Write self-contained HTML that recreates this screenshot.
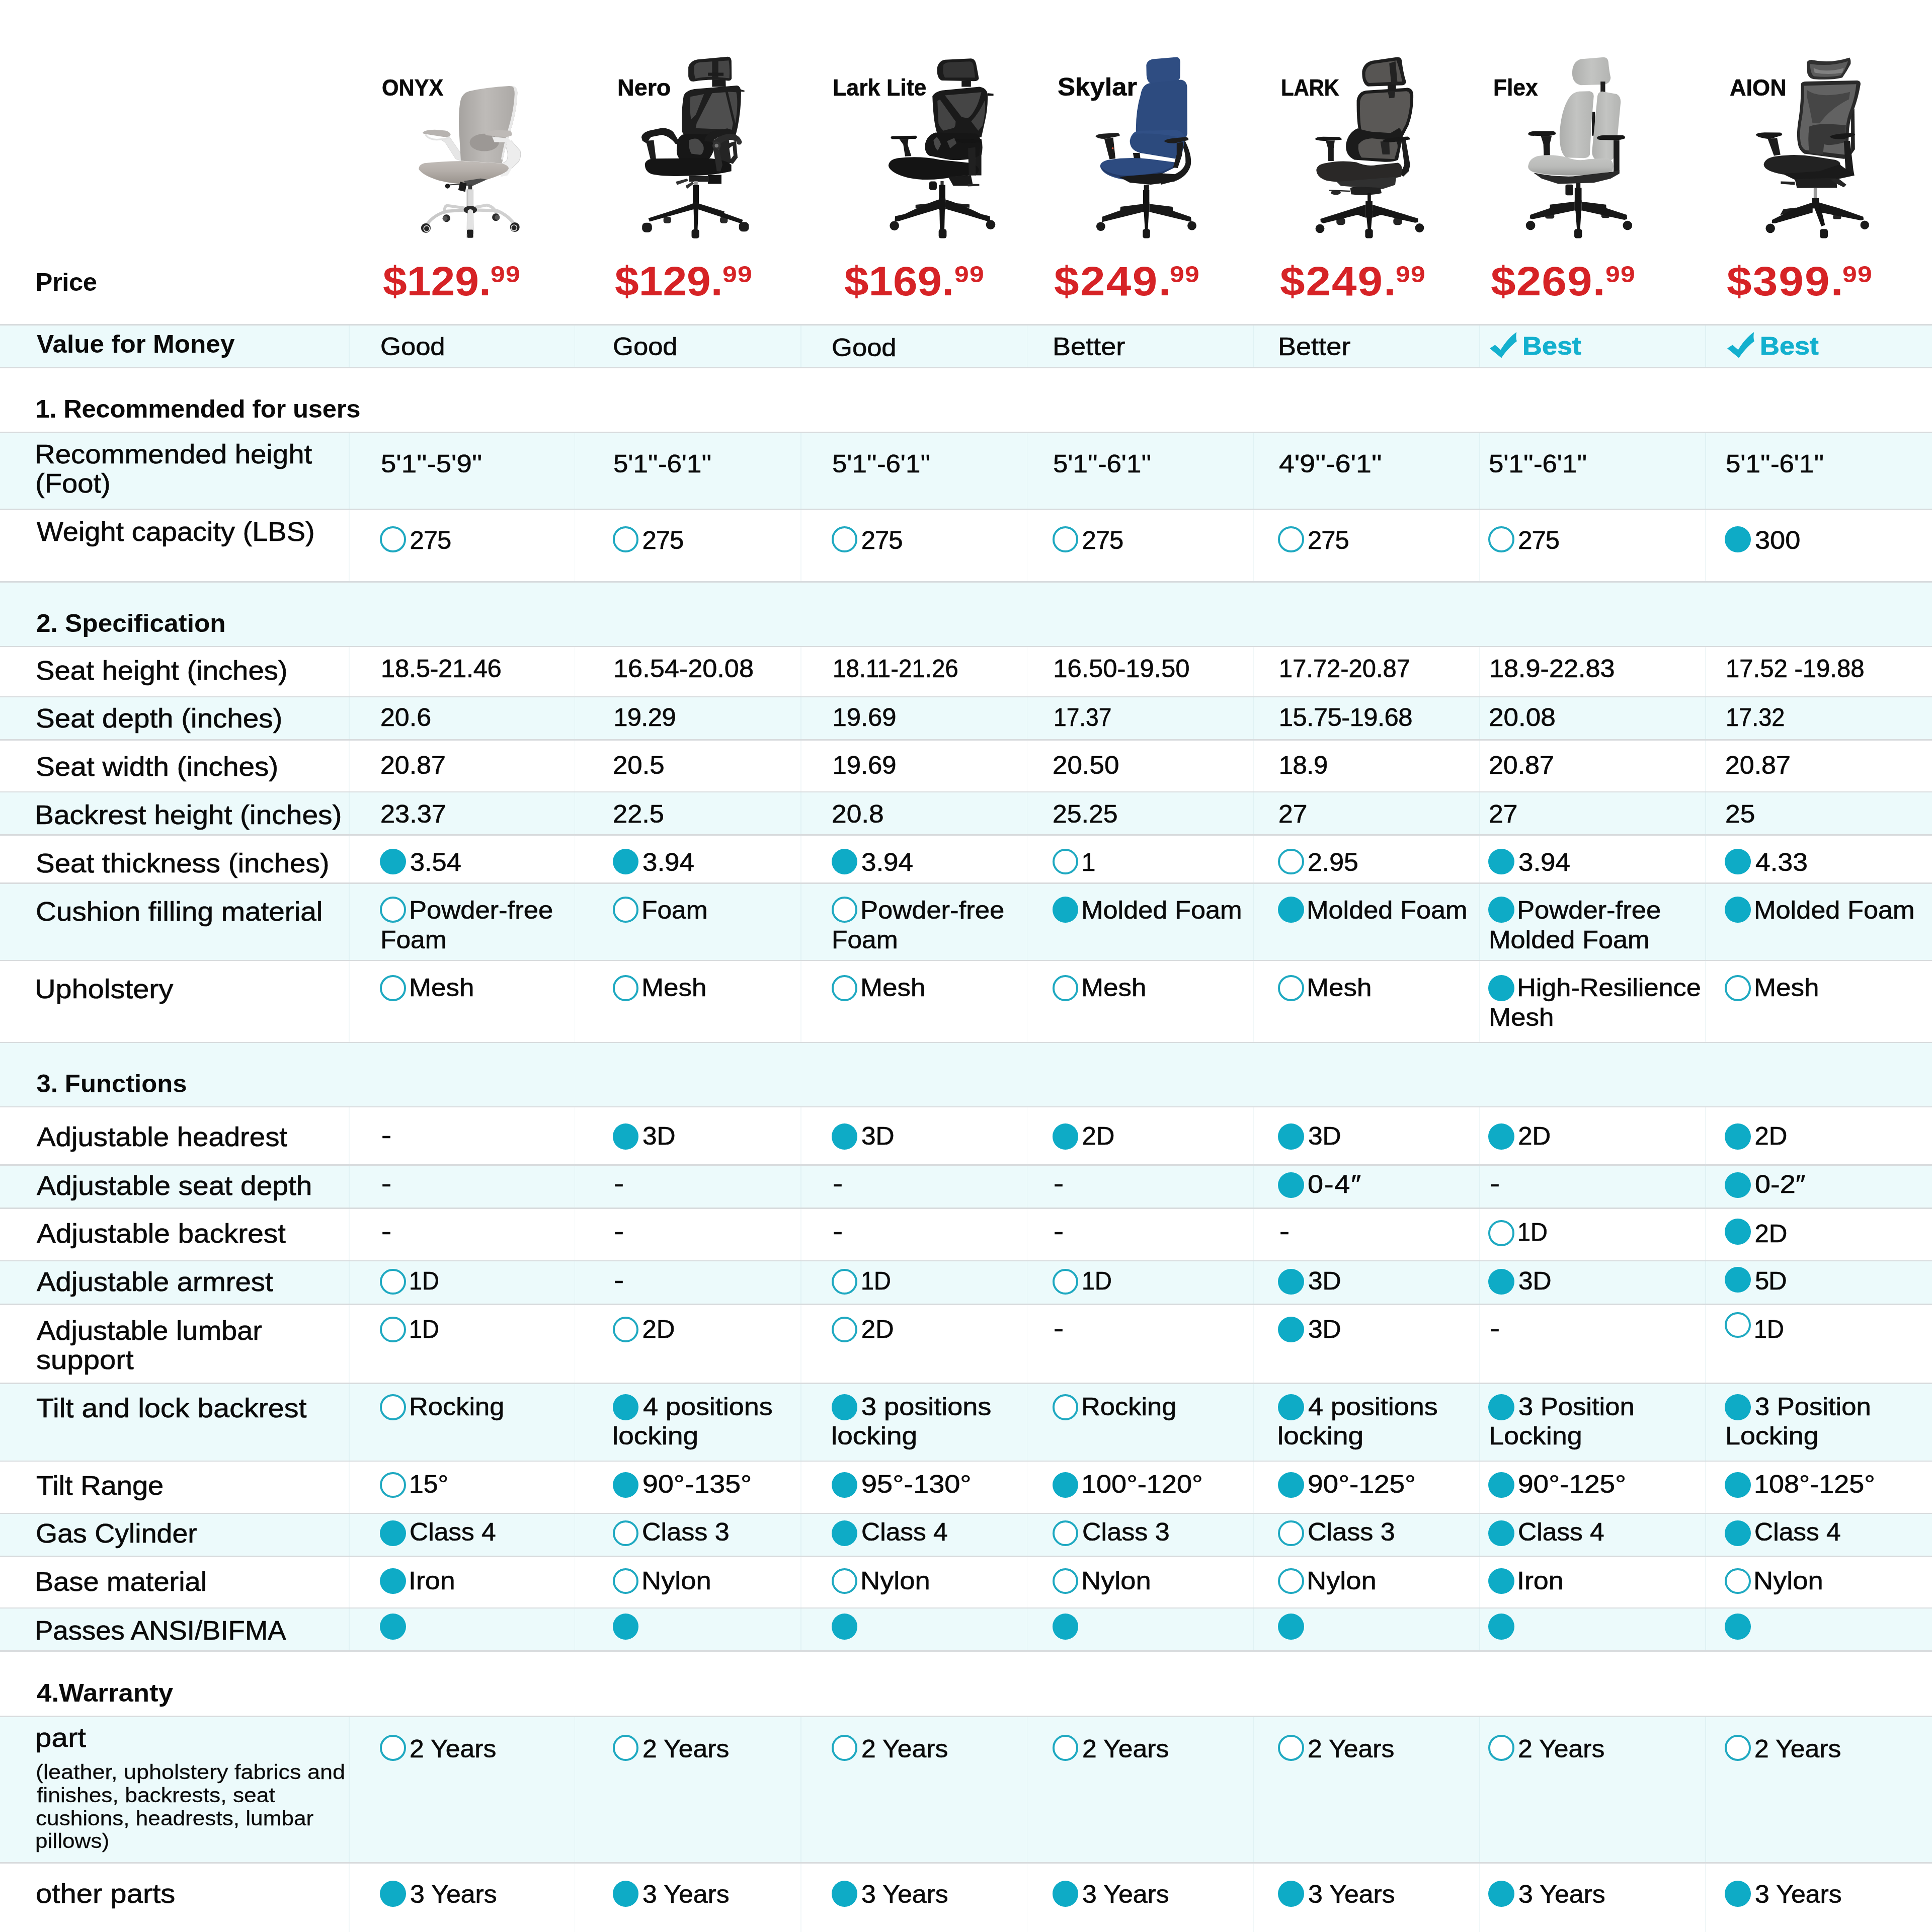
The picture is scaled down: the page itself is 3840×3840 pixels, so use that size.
<!DOCTYPE html>
<html><head><meta charset="utf-8"><title>Chair comparison</title><style>
html,body{margin:0;padding:0;background:#fff;width:3840px;height:3840px;overflow:hidden}
body{width:3840px;height:3840px;position:relative;overflow:hidden;font-family:"Liberation Sans",sans-serif;color:#0b0b0b}
#page{position:absolute;left:0;top:0;width:3840px;height:3840px;overflow:hidden;will-change:transform}
.t{position:absolute;white-space:pre;transform-origin:0 50%;color:#0a0a0a;-webkit-text-stroke:0.7px currentColor}
.abs{position:absolute}
.row{position:absolute;left:0;width:3840px}
.tint{background:#ecfafb}
.hl{position:absolute;left:0;width:3840px;height:2.6px;background:#d8dbdd}
.vl{position:absolute;width:1.8px;background:rgba(150,195,200,0.13)}
.cf{position:absolute;width:51.6px;height:51.6px;border-radius:50%;background:#0eabc6}
.co{position:absolute;width:51.6px;height:51.6px;border-radius:50%;box-sizing:border-box;border:4.4px solid #1fa9c1;background:#fff}
</style></head><body>
<div id="page">
<div class="row tint" style="top:645.4px;height:84.9px"></div>
<div class="row" style="top:730.3px;height:129.4px"></div>
<div class="row tint" style="top:859.7px;height:152.7px"></div>
<div class="row" style="top:1012.4px;height:144.2px"></div>
<div class="row tint" style="top:1156.6px;height:128.2px"></div>
<div class="row" style="top:1284.8px;height:100.3px"></div>
<div class="row tint" style="top:1385.1px;height:85.6px"></div>
<div class="row" style="top:1470.7px;height:103.5px"></div>
<div class="row tint" style="top:1574.2px;height:85.4px"></div>
<div class="row" style="top:1659.6px;height:95.9px"></div>
<div class="row tint" style="top:1755.5px;height:153.6px"></div>
<div class="row" style="top:1909.1px;height:163.0px"></div>
<div class="row tint" style="top:2072.1px;height:127.7px"></div>
<div class="row" style="top:2199.8px;height:115.8px"></div>
<div class="row tint" style="top:2315.6px;height:86.1px"></div>
<div class="row" style="top:2401.7px;height:104.4px"></div>
<div class="row tint" style="top:2506.1px;height:86.5px"></div>
<div class="row" style="top:2592.6px;height:157.0px"></div>
<div class="row tint" style="top:2749.6px;height:154.2px"></div>
<div class="row" style="top:2903.8px;height:104.0px"></div>
<div class="row tint" style="top:3007.8px;height:85.8px"></div>
<div class="row" style="top:3093.6px;height:102.5px"></div>
<div class="row tint" style="top:3196.1px;height:85.4px"></div>
<div class="row" style="top:3281.5px;height:130.2px"></div>
<div class="row tint" style="top:3411.7px;height:290.7px"></div>
<div class="row" style="top:3702.4px;height:137.6px"></div>
<div class="vl" style="left:693.1px;top:645.4px;height:84.9px"></div>
<div class="vl" style="left:1141.6px;top:645.4px;height:84.9px"></div>
<div class="vl" style="left:1591.2px;top:645.4px;height:84.9px"></div>
<div class="vl" style="left:2040.6px;top:645.4px;height:84.9px"></div>
<div class="vl" style="left:2490.6px;top:645.4px;height:84.9px"></div>
<div class="vl" style="left:2939.9px;top:645.4px;height:84.9px"></div>
<div class="vl" style="left:3389.3px;top:645.4px;height:84.9px"></div>
<div class="vl" style="left:693.1px;top:859.7px;height:152.7px"></div>
<div class="vl" style="left:1141.6px;top:859.7px;height:152.7px"></div>
<div class="vl" style="left:1591.2px;top:859.7px;height:152.7px"></div>
<div class="vl" style="left:2040.6px;top:859.7px;height:152.7px"></div>
<div class="vl" style="left:2490.6px;top:859.7px;height:152.7px"></div>
<div class="vl" style="left:2939.9px;top:859.7px;height:152.7px"></div>
<div class="vl" style="left:3389.3px;top:859.7px;height:152.7px"></div>
<div class="vl" style="left:693.1px;top:1012.4px;height:144.2px"></div>
<div class="vl" style="left:1141.6px;top:1012.4px;height:144.2px"></div>
<div class="vl" style="left:1591.2px;top:1012.4px;height:144.2px"></div>
<div class="vl" style="left:2040.6px;top:1012.4px;height:144.2px"></div>
<div class="vl" style="left:2490.6px;top:1012.4px;height:144.2px"></div>
<div class="vl" style="left:2939.9px;top:1012.4px;height:144.2px"></div>
<div class="vl" style="left:3389.3px;top:1012.4px;height:144.2px"></div>
<div class="vl" style="left:693.1px;top:1284.8px;height:100.3px"></div>
<div class="vl" style="left:1141.6px;top:1284.8px;height:100.3px"></div>
<div class="vl" style="left:1591.2px;top:1284.8px;height:100.3px"></div>
<div class="vl" style="left:2040.6px;top:1284.8px;height:100.3px"></div>
<div class="vl" style="left:2490.6px;top:1284.8px;height:100.3px"></div>
<div class="vl" style="left:2939.9px;top:1284.8px;height:100.3px"></div>
<div class="vl" style="left:3389.3px;top:1284.8px;height:100.3px"></div>
<div class="vl" style="left:693.1px;top:1385.1px;height:85.6px"></div>
<div class="vl" style="left:1141.6px;top:1385.1px;height:85.6px"></div>
<div class="vl" style="left:1591.2px;top:1385.1px;height:85.6px"></div>
<div class="vl" style="left:2040.6px;top:1385.1px;height:85.6px"></div>
<div class="vl" style="left:2490.6px;top:1385.1px;height:85.6px"></div>
<div class="vl" style="left:2939.9px;top:1385.1px;height:85.6px"></div>
<div class="vl" style="left:3389.3px;top:1385.1px;height:85.6px"></div>
<div class="vl" style="left:693.1px;top:1470.7px;height:103.5px"></div>
<div class="vl" style="left:1141.6px;top:1470.7px;height:103.5px"></div>
<div class="vl" style="left:1591.2px;top:1470.7px;height:103.5px"></div>
<div class="vl" style="left:2040.6px;top:1470.7px;height:103.5px"></div>
<div class="vl" style="left:2490.6px;top:1470.7px;height:103.5px"></div>
<div class="vl" style="left:2939.9px;top:1470.7px;height:103.5px"></div>
<div class="vl" style="left:3389.3px;top:1470.7px;height:103.5px"></div>
<div class="vl" style="left:693.1px;top:1574.2px;height:85.4px"></div>
<div class="vl" style="left:1141.6px;top:1574.2px;height:85.4px"></div>
<div class="vl" style="left:1591.2px;top:1574.2px;height:85.4px"></div>
<div class="vl" style="left:2040.6px;top:1574.2px;height:85.4px"></div>
<div class="vl" style="left:2490.6px;top:1574.2px;height:85.4px"></div>
<div class="vl" style="left:2939.9px;top:1574.2px;height:85.4px"></div>
<div class="vl" style="left:3389.3px;top:1574.2px;height:85.4px"></div>
<div class="vl" style="left:693.1px;top:1659.6px;height:95.9px"></div>
<div class="vl" style="left:1141.6px;top:1659.6px;height:95.9px"></div>
<div class="vl" style="left:1591.2px;top:1659.6px;height:95.9px"></div>
<div class="vl" style="left:2040.6px;top:1659.6px;height:95.9px"></div>
<div class="vl" style="left:2490.6px;top:1659.6px;height:95.9px"></div>
<div class="vl" style="left:2939.9px;top:1659.6px;height:95.9px"></div>
<div class="vl" style="left:3389.3px;top:1659.6px;height:95.9px"></div>
<div class="vl" style="left:693.1px;top:1755.5px;height:153.6px"></div>
<div class="vl" style="left:1141.6px;top:1755.5px;height:153.6px"></div>
<div class="vl" style="left:1591.2px;top:1755.5px;height:153.6px"></div>
<div class="vl" style="left:2040.6px;top:1755.5px;height:153.6px"></div>
<div class="vl" style="left:2490.6px;top:1755.5px;height:153.6px"></div>
<div class="vl" style="left:2939.9px;top:1755.5px;height:153.6px"></div>
<div class="vl" style="left:3389.3px;top:1755.5px;height:153.6px"></div>
<div class="vl" style="left:693.1px;top:1909.1px;height:163.0px"></div>
<div class="vl" style="left:1141.6px;top:1909.1px;height:163.0px"></div>
<div class="vl" style="left:1591.2px;top:1909.1px;height:163.0px"></div>
<div class="vl" style="left:2040.6px;top:1909.1px;height:163.0px"></div>
<div class="vl" style="left:2490.6px;top:1909.1px;height:163.0px"></div>
<div class="vl" style="left:2939.9px;top:1909.1px;height:163.0px"></div>
<div class="vl" style="left:3389.3px;top:1909.1px;height:163.0px"></div>
<div class="vl" style="left:693.1px;top:2199.8px;height:115.8px"></div>
<div class="vl" style="left:1141.6px;top:2199.8px;height:115.8px"></div>
<div class="vl" style="left:1591.2px;top:2199.8px;height:115.8px"></div>
<div class="vl" style="left:2040.6px;top:2199.8px;height:115.8px"></div>
<div class="vl" style="left:2490.6px;top:2199.8px;height:115.8px"></div>
<div class="vl" style="left:2939.9px;top:2199.8px;height:115.8px"></div>
<div class="vl" style="left:3389.3px;top:2199.8px;height:115.8px"></div>
<div class="vl" style="left:693.1px;top:2315.6px;height:86.1px"></div>
<div class="vl" style="left:1141.6px;top:2315.6px;height:86.1px"></div>
<div class="vl" style="left:1591.2px;top:2315.6px;height:86.1px"></div>
<div class="vl" style="left:2040.6px;top:2315.6px;height:86.1px"></div>
<div class="vl" style="left:2490.6px;top:2315.6px;height:86.1px"></div>
<div class="vl" style="left:2939.9px;top:2315.6px;height:86.1px"></div>
<div class="vl" style="left:3389.3px;top:2315.6px;height:86.1px"></div>
<div class="vl" style="left:693.1px;top:2401.7px;height:104.4px"></div>
<div class="vl" style="left:1141.6px;top:2401.7px;height:104.4px"></div>
<div class="vl" style="left:1591.2px;top:2401.7px;height:104.4px"></div>
<div class="vl" style="left:2040.6px;top:2401.7px;height:104.4px"></div>
<div class="vl" style="left:2490.6px;top:2401.7px;height:104.4px"></div>
<div class="vl" style="left:2939.9px;top:2401.7px;height:104.4px"></div>
<div class="vl" style="left:3389.3px;top:2401.7px;height:104.4px"></div>
<div class="vl" style="left:693.1px;top:2506.1px;height:86.5px"></div>
<div class="vl" style="left:1141.6px;top:2506.1px;height:86.5px"></div>
<div class="vl" style="left:1591.2px;top:2506.1px;height:86.5px"></div>
<div class="vl" style="left:2040.6px;top:2506.1px;height:86.5px"></div>
<div class="vl" style="left:2490.6px;top:2506.1px;height:86.5px"></div>
<div class="vl" style="left:2939.9px;top:2506.1px;height:86.5px"></div>
<div class="vl" style="left:3389.3px;top:2506.1px;height:86.5px"></div>
<div class="vl" style="left:693.1px;top:2592.6px;height:157.0px"></div>
<div class="vl" style="left:1141.6px;top:2592.6px;height:157.0px"></div>
<div class="vl" style="left:1591.2px;top:2592.6px;height:157.0px"></div>
<div class="vl" style="left:2040.6px;top:2592.6px;height:157.0px"></div>
<div class="vl" style="left:2490.6px;top:2592.6px;height:157.0px"></div>
<div class="vl" style="left:2939.9px;top:2592.6px;height:157.0px"></div>
<div class="vl" style="left:3389.3px;top:2592.6px;height:157.0px"></div>
<div class="vl" style="left:693.1px;top:2749.6px;height:154.2px"></div>
<div class="vl" style="left:1141.6px;top:2749.6px;height:154.2px"></div>
<div class="vl" style="left:1591.2px;top:2749.6px;height:154.2px"></div>
<div class="vl" style="left:2040.6px;top:2749.6px;height:154.2px"></div>
<div class="vl" style="left:2490.6px;top:2749.6px;height:154.2px"></div>
<div class="vl" style="left:2939.9px;top:2749.6px;height:154.2px"></div>
<div class="vl" style="left:3389.3px;top:2749.6px;height:154.2px"></div>
<div class="vl" style="left:693.1px;top:2903.8px;height:104.0px"></div>
<div class="vl" style="left:1141.6px;top:2903.8px;height:104.0px"></div>
<div class="vl" style="left:1591.2px;top:2903.8px;height:104.0px"></div>
<div class="vl" style="left:2040.6px;top:2903.8px;height:104.0px"></div>
<div class="vl" style="left:2490.6px;top:2903.8px;height:104.0px"></div>
<div class="vl" style="left:2939.9px;top:2903.8px;height:104.0px"></div>
<div class="vl" style="left:3389.3px;top:2903.8px;height:104.0px"></div>
<div class="vl" style="left:693.1px;top:3007.8px;height:85.8px"></div>
<div class="vl" style="left:1141.6px;top:3007.8px;height:85.8px"></div>
<div class="vl" style="left:1591.2px;top:3007.8px;height:85.8px"></div>
<div class="vl" style="left:2040.6px;top:3007.8px;height:85.8px"></div>
<div class="vl" style="left:2490.6px;top:3007.8px;height:85.8px"></div>
<div class="vl" style="left:2939.9px;top:3007.8px;height:85.8px"></div>
<div class="vl" style="left:3389.3px;top:3007.8px;height:85.8px"></div>
<div class="vl" style="left:693.1px;top:3093.6px;height:102.5px"></div>
<div class="vl" style="left:1141.6px;top:3093.6px;height:102.5px"></div>
<div class="vl" style="left:1591.2px;top:3093.6px;height:102.5px"></div>
<div class="vl" style="left:2040.6px;top:3093.6px;height:102.5px"></div>
<div class="vl" style="left:2490.6px;top:3093.6px;height:102.5px"></div>
<div class="vl" style="left:2939.9px;top:3093.6px;height:102.5px"></div>
<div class="vl" style="left:3389.3px;top:3093.6px;height:102.5px"></div>
<div class="vl" style="left:693.1px;top:3196.1px;height:85.4px"></div>
<div class="vl" style="left:1141.6px;top:3196.1px;height:85.4px"></div>
<div class="vl" style="left:1591.2px;top:3196.1px;height:85.4px"></div>
<div class="vl" style="left:2040.6px;top:3196.1px;height:85.4px"></div>
<div class="vl" style="left:2490.6px;top:3196.1px;height:85.4px"></div>
<div class="vl" style="left:2939.9px;top:3196.1px;height:85.4px"></div>
<div class="vl" style="left:3389.3px;top:3196.1px;height:85.4px"></div>
<div class="vl" style="left:693.1px;top:3411.7px;height:290.7px"></div>
<div class="vl" style="left:1141.6px;top:3411.7px;height:290.7px"></div>
<div class="vl" style="left:1591.2px;top:3411.7px;height:290.7px"></div>
<div class="vl" style="left:2040.6px;top:3411.7px;height:290.7px"></div>
<div class="vl" style="left:2490.6px;top:3411.7px;height:290.7px"></div>
<div class="vl" style="left:2939.9px;top:3411.7px;height:290.7px"></div>
<div class="vl" style="left:3389.3px;top:3411.7px;height:290.7px"></div>
<div class="vl" style="left:693.1px;top:3702.4px;height:137.6px"></div>
<div class="vl" style="left:1141.6px;top:3702.4px;height:137.6px"></div>
<div class="vl" style="left:1591.2px;top:3702.4px;height:137.6px"></div>
<div class="vl" style="left:2040.6px;top:3702.4px;height:137.6px"></div>
<div class="vl" style="left:2490.6px;top:3702.4px;height:137.6px"></div>
<div class="vl" style="left:2939.9px;top:3702.4px;height:137.6px"></div>
<div class="vl" style="left:3389.3px;top:3702.4px;height:137.6px"></div>
<div class="hl" style="top:644.1px"></div>
<div class="hl" style="top:729.0px"></div>
<div class="hl" style="top:858.4px"></div>
<div class="hl" style="top:1011.1px"></div>
<div class="hl" style="top:1155.3px"></div>
<div class="hl" style="top:1283.5px"></div>
<div class="hl" style="top:1383.8px"></div>
<div class="hl" style="top:1469.4px"></div>
<div class="hl" style="top:1572.9px"></div>
<div class="hl" style="top:1658.3px"></div>
<div class="hl" style="top:1754.2px"></div>
<div class="hl" style="top:1907.8px"></div>
<div class="hl" style="top:2070.8px"></div>
<div class="hl" style="top:2198.5px"></div>
<div class="hl" style="top:2314.3px"></div>
<div class="hl" style="top:2400.4px"></div>
<div class="hl" style="top:2504.8px"></div>
<div class="hl" style="top:2591.3px"></div>
<div class="hl" style="top:2748.3px"></div>
<div class="hl" style="top:2902.5px"></div>
<div class="hl" style="top:3006.5px"></div>
<div class="hl" style="top:3092.3px"></div>
<div class="hl" style="top:3194.8px"></div>
<div class="hl" style="top:3280.2px"></div>
<div class="hl" style="top:3410.4px"></div>
<div class="hl" style="top:3701.1px"></div>
<div class="t" style="left:758.9px;top:146.1px;font-size:46.7px;line-height:56px;font-weight:700;-webkit-text-stroke:0;transform:scaleX(0.924);-webkit-text-stroke:0.6px currentColor;">ONYX</div>
<div class="t" style="left:1227.0px;top:146.1px;font-size:46.7px;line-height:56px;font-weight:700;-webkit-text-stroke:0;-webkit-text-stroke:0.6px currentColor;">Nero</div>
<div class="t" style="left:1654.7px;top:146.1px;font-size:46.7px;line-height:56px;font-weight:700;-webkit-text-stroke:0;transform:scaleX(0.958);-webkit-text-stroke:0.6px currentColor;">Lark Lite</div>
<div class="t" style="left:2102.2px;top:143.0px;font-size:49.9px;line-height:60px;font-weight:700;-webkit-text-stroke:0;transform:scaleX(1.055);-webkit-text-stroke:0.6px currentColor;">Skylar</div>
<div class="t" style="left:2546.3px;top:146.1px;font-size:46.7px;line-height:56px;font-weight:700;-webkit-text-stroke:0;letter-spacing:-0.31px;transform:scaleX(0.900);-webkit-text-stroke:0.6px currentColor;">LARK</div>
<div class="t" style="left:2967.8px;top:146.1px;font-size:46.7px;line-height:56px;font-weight:700;-webkit-text-stroke:0;transform:scaleX(0.949);-webkit-text-stroke:0.6px currentColor;">Flex</div>
<div class="t" style="left:3437.8px;top:146.1px;font-size:46.7px;line-height:56px;font-weight:700;-webkit-text-stroke:0;transform:scaleX(0.966);-webkit-text-stroke:0.6px currentColor;">AION</div>
<svg class="abs" style="left:740px;top:100px" width="400" height="400" viewBox="0 0 1932 1932">
<defs>
<linearGradient id="c1b" x1="0" y1="0" x2="1" y2="0"><stop offset="0" stop-color="#a6a3a0"/><stop offset="0.45" stop-color="#bebbb8"/><stop offset="1" stop-color="#aaa7a4"/></linearGradient>
<linearGradient id="c1s" x1="0" y1="0" x2="0" y2="1"><stop offset="0" stop-color="#c1bcb8"/><stop offset="0.45" stop-color="#b3ada8"/><stop offset="1" stop-color="#97918b"/></linearGradient>
</defs>
<!-- back legs -->
<path d="M890,1515 L715,1490 Q690,1500 690,1560" fill="none" stroke="#cfcfcf" stroke-width="28" stroke-linecap="round"/>
<path d="M995,1505 L1100,1486 Q1170,1500 1192,1570" fill="none" stroke="#d2d2d2" stroke-width="28" stroke-linecap="round"/>
<circle cx="712" cy="1612" r="36" fill="#2b2b2b"/><circle cx="698" cy="1614" r="24" fill="#555"/>
<circle cx="1186" cy="1602" r="36" fill="#2b2b2b"/><circle cx="1200" cy="1604" r="24" fill="#555"/>
<!-- right arm strut (behind back) -->
<path d="M1270,885 L1335,868 L1420,965 Q1432,1030 1402,1072 L1340,1132 L1250,1182 L1228,1100 L1290,1060 Q1312,1000 1290,950 Z" fill="#ededed" stroke="#d0d0d0" stroke-width="5"/>
<!-- left arm strut -->
<path d="M655,855 L742,832 L852,992 L852,1062 L800,1042 L700,885 Z" fill="#e6e6e6" stroke="#d2d2d2" stroke-width="4"/>
<!-- backrest -->
<path d="M850,1060 L832,760 Q826,560 850,470 Q868,410 930,392 Q1100,355 1310,343 Q1385,340 1393,405 Q1388,560 1345,710 Q1300,860 1270,965 L1245,1086 Z" fill="url(#c1b)"/>
<path d="M1345,343 Q1392,345 1394,405 Q1388,560 1345,710 Q1300,860 1270,965 L1252,1050 L1236,1046 Q1262,900 1315,720 Q1360,560 1366,420 Q1366,365 1345,343 Z" fill="#e9e9e9"/>
<ellipse cx="1075" cy="885" rx="140" ry="84" fill="#9c9895"/>
<!-- seat -->
<path d="M445,1140 Q448,1096 500,1083 Q650,1066 860,1062 L1240,1085 Q1300,1100 1310,1130 Q1310,1160 1240,1190 Q1100,1250 940,1280 Q800,1290 640,1250 Q480,1200 445,1140 Z" fill="url(#c1s)"/>
<!-- white shell right of seat -->
<path d="M1240,1190 Q1310,1160 1312,1125 L1340,1132 L1300,1200 L1230,1215 Z" fill="#efefef"/>
<!-- left arm pad -->
<path d="M510,808 Q540,856 620,858 L700,850 Q730,842 742,826" fill="none" stroke="#e2e2e2" stroke-width="16"/>
<path d="M483,792 Q498,764 600,762 L700,770 Q750,784 752,810 Q740,836 690,832 L520,806 Q486,802 483,792 Z" fill="#b7b3b0"/>
<!-- right arm pad -->
<path d="M1150,828 L1312,848 L1332,882 L1172,882 Z" fill="#ebebeb"/>
<path d="M1080,797 Q1100,771 1200,765 L1320,772 Q1346,790 1340,816 Q1300,836 1250,830 L1100,816 Q1080,810 1080,797 Z" fill="#bebab7"/>
<!-- mechanism -->
<path d="M880,1255 L1040,1230 L1100,1240 L965,1300 L900,1300 Z" fill="#4c4c4c"/>
<path d="M740,1292 L850,1284" stroke="#333" stroke-width="9"/>
<circle cx="722" cy="1304" r="23" fill="#1c1c1c"/>
<path d="M843,1261 L906,1279 L892,1359 L825,1342 Z" fill="#1d1d1d"/>
<rect x="920" y="1289" width="38" height="48" fill="#3a3a3a"/>
<!-- cylinder -->
<rect x="906" y="1335" width="66" height="175" fill="#dadada"/>
<rect x="906" y="1335" width="14" height="175" fill="#c2c2c2"/>
<!-- front legs -->
<path d="M892,1533 L715,1545 Q590,1580 528,1668" fill="none" stroke="#c9c9c9" stroke-width="30" stroke-linecap="round"/>
<path d="M995,1533 L1200,1540 Q1305,1585 1362,1668" fill="none" stroke="#d0d0d0" stroke-width="30" stroke-linecap="round"/>
<path d="M912,1545 L968,1545 L972,1725 L908,1725 Z" fill="#e3e3e3" stroke="#cfcfcf" stroke-width="4"/>
<!-- hub -->
<ellipse cx="941" cy="1531" rx="64" ry="38" fill="#2a2a2a"/>
<path d="M916,1540 Q941,1510 966,1540 L966,1580 L916,1580 Z" fill="#e3e3e3"/>
<!-- casters -->
<circle cx="514" cy="1706" r="46" fill="#262626"/><circle cx="522" cy="1712" r="28" fill="none" stroke="#ddd" stroke-width="8"/>
<circle cx="1368" cy="1698" r="46" fill="#262626"/><circle cx="1360" cy="1704" r="28" fill="none" stroke="#ddd" stroke-width="8"/>
<rect x="908" y="1722" width="62" height="78" rx="12" fill="#1f1f1f"/>
<rect x="903" y="1760" width="8" height="40" rx="4" fill="#ddd"/><rect x="967" y="1760" width="8" height="40" rx="4" fill="#ddd"/>
</svg>

<svg class="abs" style="left:1200px;top:100px" width="400" height="400" viewBox="0 0 1932 1932">
<!-- back legs + casters -->
<path d="M862,1468 L868,1496 L622,1580 L610,1556 Z" fill="#1b1b1b"/>
<path d="M905,1468 L900,1496 L1150,1572 L1160,1548 Z" fill="#1b1b1b"/>
<rect x="573" y="1598" width="74" height="62" rx="22" fill="#2a2a2a"/>
<rect x="1116" y="1598" width="74" height="62" rx="22" fill="#2a2a2a"/>
<!-- headrest -->
<path d="M812,160 Q830,100 900,88 L1190,62 Q1222,62 1226,100 L1228,270 Q1222,292 1195,292 Q1020,270 860,300 Q818,300 812,250 Z" fill="#1f1f1f"/>
<path d="M868,150 Q880,120 930,115 L1040,108 L1040,255 Q940,255 880,272 Q862,220 868,150 Z" fill="#484848"/>
<path d="M1100,105 L1200,98 Q1212,180 1206,268 L1100,258 Z" fill="#454545"/>
<path d="M1040,280 L1170,282 L1172,350 L1040,350 Z" fill="#1c1c1c"/>
<path d="M1000,215 L1150,215 L1150,245 L1000,245 Z" fill="#1c1c1c"/>
<!-- backrest -->
<path d="M1290,368 L1352,386 L1350,398 L1290,395 Z" fill="#222"/>
<path d="M768,432 Q790,385 870,372 L1280,338 Q1315,345 1318,400 Q1320,560 1285,740 L1262,835 L780,812 Q750,800 750,760 Q744,560 768,432 Z" fill="#1e1e1e"/>
<path d="M832,445 L962,420 L885,615 L838,665 Q822,560 832,445 Z" fill="#4a4a4a"/>
<path d="M1040,412 L1168,402 L1240,700 L1230,762 L882,748 L892,700 Z" fill="#4e4e4e"/>
<path d="M1192,398 L1272,402 Q1295,500 1264,700 Z" fill="#484848"/>
<!-- right arm back strut -->
<path d="M1180,900 L1270,870 L1285,1030 L1240,1090 L1150,1060 Z" fill="#262626"/>
<path d="M1100,860 L1200,850 L1230,1080 L1120,1100 Z" fill="#242424"/><path d="M1205,940 L1238,915 L1246,1010 L1220,1045 Z" fill="#fff"/>
<!-- lumbar -->
<path d="M705,880 Q720,810 790,800 L1000,808 Q1060,830 1062,900 Q1060,1010 985,1062 L760,1062 Q700,1040 700,960 Z" fill="#171717"/>
<path d="M820,862 Q860,840 905,852 Q965,900 960,950 Q950,1000 925,1003 L842,992 Q808,940 820,862 Z" fill="#484848"/>
<!-- left arm -->
<path d="M362,835 Q368,790 440,770 L560,745 Q640,748 672,790 L740,905 L690,900 Q640,830 560,812 L455,832 Q425,860 422,900 L372,870 Z" fill="#1a1a1a"/>
<path d="M405,870 L480,862 L502,1045 L448,1045 Z" fill="#1d1d1d"/>
<path d="M560,812 L690,900 L700,1040 L502,1045 L480,862 Q500,830 560,812 Z" fill="#fff" opacity="0"/>
<!-- seat -->
<path d="M395,1095 Q400,1050 470,1040 L1000,1035 Q1180,1050 1225,1100 L1225,1160 Q1100,1192 900,1202 Q600,1216 470,1190 Q395,1170 395,1095 Z" fill="#151515"/>
<!-- right arm -->
<path d="M965,872 Q975,800 1060,775 L1185,750 Q1240,760 1258,800 L1170,815 Q1080,830 1040,880 Z" fill="#1c1c1c"/>
<path d="M1040,880 Q1100,815 1200,800 Q1290,800 1318,860 L1310,905 Q1270,860 1200,860 Q1130,870 1095,935 Z" fill="#2b2b2b"/>
<circle cx="1083" cy="915" r="40" fill="#333"/><circle cx="1083" cy="915" r="18" fill="#777"/>
<circle cx="1300" cy="880" r="26" fill="#333"/>
<path d="M1050,935 L1110,950 L1140,1100 L1120,1165 L1085,1160 Z" fill="#2a2a2a"/>
<!-- mechanism -->
<path d="M1000,1195 L1130,1195 L1130,1282 L1000,1282 Z" fill="#141414"/>
<path d="M820,1205 L1010,1205 L1010,1262 L820,1262 Z" fill="#222"/>
<path d="M690,1262 L800,1232 L812,1252 L705,1292 Z" fill="#333"/>
<path d="M785,1300 L850,1262 L865,1280 L800,1330 Z" fill="#333"/>
<rect x="868" y="1255" width="34" height="45" fill="#999"/>
<!-- cylinder -->
<rect x="855" y="1292" width="58" height="215" fill="#111"/>
<!-- front legs -->
<path d="M850,1478 L872,1524 L440,1645 L428,1612 Z" fill="#161616"/>
<path d="M920,1478 L898,1524 L1322,1664 L1336,1628 Z" fill="#161616"/>
<path d="M862,1498 L910,1498 L900,1735 L868,1735 Z" fill="#121212"/>
<circle cx="885" cy="1495" r="40" fill="#161616"/>
<!-- casters -->
<rect x="368" y="1655" width="95" height="92" rx="36" fill="#1c1c1c"/>
<rect x="1298" y="1648" width="95" height="92" rx="36" fill="#1c1c1c"/>
<rect x="843" y="1719" width="74" height="86" rx="22" fill="#1a1a1a"/>
</svg>

<svg class="abs" style="left:1640px;top:100px" width="400" height="400" viewBox="0 0 1932 1932">
<!-- back legs -->
<path d="M1092,1460 L868,1483 L868,1518 L1092,1505 Z" fill="#1e1e1e"/>
<path d="M1155,1460 L1386,1479 L1386,1511 L1155,1505 Z" fill="#1e1e1e"/>
<!-- headrest -->
<path d="M1075,170 Q1090,100 1150,90 L1400,78 Q1440,80 1450,130 L1476,270 Q1470,296 1430,296 L1120,290 Q1070,270 1075,170 Z" fill="#1b1b1b"/>
<path d="M1135,140 Q1150,118 1200,115 L1390,108 Q1420,112 1425,150 L1440,262 L1150,262 Q1125,230 1135,140 Z" fill="#333"/>
<path d="M1310,292 L1400,292 L1400,350 L1310,350 Z" fill="#1a1a1a"/>
<!-- backrest -->
<path d="M1562,412 L1616,416 L1616,436 L1562,436 Z" fill="#111"/>
<path d="M1030,440 Q1050,400 1120,385 L1480,350 Q1550,360 1560,420 Q1565,560 1530,700 L1500,835 L1075,795 Q1040,700 1030,440 Z" fill="#1a1a1a"/>
<path d="M1150,432 L1500,402 Q1470,520 1440,565 Q1400,640 1365,652 L1310,640 Z" fill="#454545"/>
<path d="M1078,485 L1102,472 L1252,682 Q1255,730 1235,745 L1135,772 Q1095,730 1088,700 Z" fill="#434343"/>
<path d="M1532,482 Q1548,560 1512,722 L1470,772 L1402,682 Q1480,600 1532,482 Z" fill="#414141"/>
<!-- right frame -->
<path d="M1440,850 L1500,850 Q1520,930 1500,1010 L1500,1200 L1440,1200 Z" fill="#1c1c1c"/>
<!-- lumbar -->
<path d="M960,900 Q980,812 1060,790 L1450,800 Q1500,830 1490,900 L1480,1010 Q1400,1062 1200,1052 L1000,1012 Q950,980 960,900 Z" fill="#161616"/>
<path d="M1040,862 L1072,832 Q1100,860 1112,902 L1082,962 Q1050,940 1040,862 Z" fill="#4a4a4a"/>
<path d="M1170,872 L1240,842 L1262,892 L1200,942 Z" fill="#424242"/>
<!-- left arm -->
<path d="M630,838 Q632,824 650,824 L870,820 Q884,826 880,840 L868,850 L650,853 Q632,850 630,838 Z" fill="#141414"/>
<path d="M712,852 L800,850 L792,905 L828,1015 L768,1018 L750,905 Z" fill="#1a1a1a"/>
<!-- seat -->
<path d="M608,1110 Q610,1050 700,1035 Q900,1010 1100,1050 L1380,1080 Q1470,1100 1476,1150 Q1470,1200 1380,1202 L1250,1212 Q1000,1264 800,1224 Q625,1180 608,1110 Z" fill="#141414"/>
<!-- right arm -->
<path d="M1235,860 L1330,850 L1500,862 L1500,884 L1330,892 Z" fill="#141414"/>
<path d="M1372,940 L1442,930 L1446,1202 L1380,1202 Z" fill="#202020"/>
<!-- mechanism -->
<path d="M1180,1212 L1400,1200 L1420,1300 L1230,1300 Z" fill="#1a1a1a"/>
<path d="M1370,1282 L1480,1284 L1480,1302 L1370,1306 Z" fill="#2a2a2a"/>
<rect x="998" y="1258" width="74" height="84" rx="22" fill="#151515"/>
<rect x="1108" y="1255" width="30" height="40" fill="#333"/>
<!-- cylinder -->
<rect x="1094" y="1292" width="60" height="150" fill="#111"/>
<!-- front legs -->
<path d="M1092,1432 Q973,1470 763,1572 L672,1593 L668,1640 L700,1642 Q903,1579 1092,1523 Z" fill="#161616"/>
<path d="M1155,1432 Q1288,1470 1498,1572 L1582,1593 L1585,1640 L1561,1642 Q1358,1579 1155,1523 Z" fill="#161616"/>
<path d="M1097,1500 L1150,1500 L1145,1722 L1102,1722 Z" fill="#121212"/>
<rect x="1092" y="1420" width="63" height="110" fill="#141414"/>
<!-- casters -->
<circle cx="665" cy="1684" r="45" fill="#1a1a1a"/>
<circle cx="1589" cy="1674" r="45" fill="#1a1a1a"/>
<rect x="1090" y="1716" width="76" height="88" rx="22" fill="#181818"/>
</svg>

<svg class="abs" style="left:2080px;top:100px" width="400" height="400" viewBox="0 0 1932 1932">
<!-- back legs -->
<!-- headrest -->
<path d="M958,140 Q965,95 1020,85 L1250,65 Q1282,68 1284,110 L1282,262 Q1275,292 1235,296 L1010,322 Q965,310 960,240 Z" fill="#2f4d82"/>
<!-- frame behind -->
<path d="M1320,850 Q1400,1000 1385,1100 Q1360,1200 1250,1250 L1100,1290 L1090,1240 L1230,1190 Q1320,1150 1335,1080 Q1340,980 1290,880 Z" fill="#1b1b1b"/>
<!-- backrest -->
<path d="M905,420 Q920,330 990,315 L1290,282 Q1345,290 1350,350 L1352,800 L1330,870 L860,830 Q850,600 905,420 Z" fill="#2d4b7f"/>
<!-- lumbar -->
<path d="M800,870 Q815,790 880,772 L1250,765 Q1320,780 1330,850 L1300,1000 Q1280,1040 1230,1040 L900,985 Q800,960 800,870 Z" fill="#2c4a7d"/>
<path d="M800,870 Q815,790 880,772 L1250,765 Q1320,780 1330,850 Q1100,790 860,800 Q810,820 800,870 Z" fill="#315086"/>
<!-- back post -->
<path d="M830,985 L895,985 L905,1070 L845,1070 Z" fill="#1a1a1a"/>
<!-- left arm -->
<path d="M470,826 Q480,805 540,800 L680,792 Q708,800 702,822 L560,850 Q490,850 470,826 Z" fill="#1d1d1d"/>
<path d="M555,850 L640,838 L662,1040 L605,1045 Z" fill="#1a1a1a"/>
<circle cx="635" cy="940" r="9" fill="#e0553a"/>
<!-- seat -->
<path d="M515,1110 Q520,1065 600,1050 Q800,1020 1000,1045 L1230,1075 Q1250,1095 1240,1120 L1120,1180 Q900,1245 720,1238 Q530,1200 515,1110 Z" fill="#2d4b80"/>
<path d="M515,1110 Q560,1180 720,1200 Q900,1210 1120,1160 L1240,1105 L1240,1120 L1120,1180 Q900,1235 720,1225 Q530,1190 515,1110 Z" fill="#233b69"/>
<!-- right arm -->
<path d="M1128,872 Q1140,854 1200,846 L1340,832 Q1368,839 1362,862 L1230,892 Q1150,894 1128,872 Z" fill="#1d1d1d"/>
<path d="M1250,890 L1312,880 L1300,1010 L1260,1130 L1215,1125 L1250,1000 Z" fill="#1c1c1c"/>
<!-- mechanism -->
<path d="M695,1215 L1100,1180 L1250,1190 L1230,1260 L1000,1290 L800,1270 Z" fill="#191919"/>
<path d="M935,1290 L985,1290 L985,1340 L935,1340 Z" fill="#222"/>
<!-- cylinder -->
<rect x="927" y="1341" width="60" height="140" fill="#121212"/><rect x="938" y="1290" width="38" height="55" fill="#1a1a1a"/>
<!-- front legs -->
<path d="M931,1474 L710,1502 L707,1537 L535,1597 L532,1649 L560,1642 L931,1551 Z" fill="#191919"/>
<path d="M987,1474 L1211,1502 L1214,1541 L1386,1600 L1393,1649 L1365,1642 L987,1551 Z" fill="#191919"/>
<path d="M934,1540 L983,1540 L973,1722 L945,1722 Z" fill="#131313"/>
<rect x="927" y="1460" width="60" height="95" fill="#151515"/>
<!-- casters -->
<circle cx="521" cy="1691" r="43" fill="#1a1a1a"/>
<circle cx="1396" cy="1684" r="43" fill="#1a1a1a"/>
<rect x="924" y="1716" width="70" height="88" rx="20" fill="#181818"/>
</svg>

<svg class="abs" style="left:2520px;top:100px" width="400" height="400" viewBox="0 0 1932 1932">
<!-- back legs -->
<rect x="658" y="1607" width="84" height="70" rx="28" fill="#242424"/>
<rect x="1204" y="1607" width="84" height="70" rx="28" fill="#242424"/>
<!-- headrest -->
<path d="M905,200 Q920,120 1000,100 L1240,65 Q1280,62 1285,100 Q1300,220 1326,300 Q1326,332 1290,336 L960,346 Q900,320 905,200 Z" fill="#1f1f1f"/>
<path d="M935,215 Q945,150 1010,130 L1235,98 Q1262,170 1290,300 L970,314 Q930,290 935,215 Z" fill="#575553"/>
<path d="M1165,125 L1225,105 L1245,320 L1185,325 Z" fill="#222"/>
<path d="M1150,335 L1230,335 L1230,380 L1150,380 Z" fill="#1c1c1c"/>
<!-- right frame post -->
<path d="M1280,870 L1322,850 L1366,1100 L1352,1162 L1300,1212 L1268,1190 L1310,1100 Z" fill="#1d1d1d"/>
<!-- backrest -->
<path d="M853,480 Q865,400 940,386 L1340,360 Q1392,366 1396,425 Q1400,580 1350,720 L1290,835 L880,805 Q850,700 853,480 Z" fill="#1c1c1c"/>
<path d="M885,490 Q895,425 950,415 L1330,392 Q1365,398 1367,440 Q1370,580 1325,705 L1275,800 L900,775 Q880,690 885,490 Z" fill="#5a5856"/>
<path d="M1150,392 L1222,390 L1215,455 L1165,460 Z" fill="#222"/>
<!-- lumbar -->
<path d="M750,900 Q770,790 860,750 Q1000,790 1150,810 L1260,745 Q1302,780 1290,850 L1250,1052 Q1200,1076 1100,1070 L830,1050 Q740,1010 750,900 Z" fill="#1b1b1b"/>
<path d="M870,905 Q905,850 1000,845 L1230,870 Q1250,900 1245,940 L1215,1045 L900,1030 Q860,980 870,905 Z" fill="#585654"/>
<path d="M1080,875 L1165,872 L1170,1000 L1100,1000 Z" fill="#242424"/>
<!-- left arm -->
<path d="M452,852 Q460,832 530,830 L680,832 Q712,840 708,858 L560,870 Q470,868 452,852 Z" fill="#171717"/>
<path d="M556,868 L642,866 L632,940 L632,1062 L580,1062 L576,940 Z" fill="#1c1c1c"/>
<!-- seat -->
<path d="M465,1150 Q470,1100 540,1085 Q700,1050 850,1075 Q950,1120 1050,1100 L1250,1080 Q1290,1100 1286,1140 L1280,1212 Q1100,1262 900,1266 Q700,1276 560,1250 Q470,1220 465,1150 Z" fill="#2a2827"/>
<!-- right arm pad -->
<path d="M1100,872 Q1110,852 1200,840 L1340,828 Q1368,836 1362,856 L1240,876 Q1130,892 1100,872 Z" fill="#181818"/>
<!-- under seat -->
<path d="M660,1262 L1232,1215 L1222,1292 L1100,1332 L700,1302 Z" fill="#303030"/>
<path d="M790,1322 Q800,1310 900,1310 L1080,1320 L1092,1372 Q950,1402 800,1382 Z" fill="#212121"/>
<path d="M585,1338 L790,1346 L790,1358 L585,1350 Z" fill="#2a2a2a"/>
<ellipse cx="652" cy="1366" rx="48" ry="22" fill="#262626"/>
<!-- cylinder -->
<rect x="957" y="1369" width="32" height="90" fill="#151515"/>
<!-- front legs -->
<path d="M938,1481 L504,1618 L507,1649 L535,1660 L861,1579 L938,1607 Z" fill="#171717"/>
<path d="M1004,1481 L1442,1614 L1442,1649 L1414,1656 L1085,1579 L1004,1607 Z" fill="#171717"/>
<path d="M941,1540 L1004,1540 L990,1720 L959,1720 Z" fill="#131313"/>
<rect x="938" y="1446" width="66" height="160" fill="#161616"/>
<!-- casters -->
<circle cx="500" cy="1712" r="43" fill="#1a1a1a"/>
<circle cx="1456" cy="1705" r="43" fill="#1a1a1a"/>
<rect x="934" y="1716" width="74" height="88" rx="20" fill="#181818"/>
</svg>

<svg class="abs" style="left:2940px;top:100px" width="400" height="400" viewBox="0 0 1932 1932">
<defs><linearGradient id="c6g" x1="0" y1="0" x2="1" y2="0"><stop offset="0" stop-color="#adaeac"/><stop offset="0.5" stop-color="#c3c4c2"/><stop offset="1" stop-color="#b3b4b2"/></linearGradient>
<linearGradient id="c6s" x1="0" y1="0" x2="0" y2="1"><stop offset="0" stop-color="#c6c7c5"/><stop offset="0.6" stop-color="#b8b9b7"/><stop offset="1" stop-color="#9b9c9a"/></linearGradient></defs>
<!-- back legs -->
<rect x="633" y="1570" width="88" height="46" rx="20" fill="#242424"/>
<rect x="1172" y="1568" width="82" height="42" rx="20" fill="#242424"/>
<!-- headrest -->
<path d="M893,215 Q895,110 975,85 L1195,66 Q1235,68 1240,110 Q1248,200 1262,262 Q1258,318 1200,328 L975,334 Q893,318 893,215 Z" fill="url(#c6g)"/>
<path d="M1165,300 L1210,300 L1210,402 L1165,402 Z" fill="#1f1f1f"/>
<!-- spine -->
<path d="M1082,590 L1112,590 L1112,820 L1082,820 Z" fill="#1c1c1c"/>
<!-- back pads -->
<path d="M1135,440 Q1140,400 1180,395 L1320,420 Q1360,440 1358,500 L1330,800 L1292,1034 Q1272,1062 1232,1058 L1110,1044 Q1078,1010 1084,960 Z" fill="url(#c6g)"/>
<path d="M772,800 Q785,580 860,460 Q900,400 960,395 L1060,392 Q1100,400 1100,440 L1078,700 L1062,1005 Q1045,1035 1005,1035 L835,1030 Q768,985 772,800 Z" fill="url(#c6g)"/>
<!-- left arm -->
<path d="M470,800 Q475,780 540,775 L710,775 Q740,785 735,805 Q700,825 600,822 L500,820 Q470,815 470,800 Z" fill="#171717"/>
<path d="M592,822 L696,822 L678,900 L680,1008 L620,1008 L616,900 Z" fill="#1b1b1b"/>
<!-- seat -->
<path d="M470,1110 Q480,1040 560,1015 Q700,990 850,1030 Q950,1070 1050,1045 L1240,1035 Q1290,1060 1286,1120 L1280,1162 Q1100,1202 900,1202 Q600,1202 500,1160 Q465,1140 470,1110 Z" fill="url(#c6s)"/>
<!-- right arm -->
<path d="M1290,862 L1346,862 L1346,1182 L1290,1182 Z" fill="#1b1b1b"/>
<path d="M1130,838 Q1135,818 1200,815 L1380,815 Q1405,825 1400,845 Q1370,862 1280,862 L1160,860 Q1130,855 1130,838 Z" fill="#171717"/>
<!-- under seat -->
<path d="M520,1175 Q700,1215 900,1210 L1282,1165 L1345,1150 L1345,1185 L1262,1232 L1100,1272 L760,1282 L600,1232 Z" fill="#2a2a2a"/>
<rect x="828" y="1288" width="74" height="104" rx="16" fill="#1a1a1a"/>
<!-- cylinder -->
<rect x="917" y="1320" width="66" height="150" fill="#161616"/><rect x="930" y="1272" width="42" height="60" fill="#1a1a1a"/>
<!-- front legs -->
<path d="M917,1453 L679,1481 L679,1516 L490,1579 L486,1614 L514,1621 L917,1537 Z" fill="#181818"/>
<path d="M983,1453 L1218,1481 L1221,1516 L1417,1579 L1421,1621 L1393,1628 L983,1537 Z" fill="#181818"/>
<path d="M924,1530 L980,1530 L969,1720 L938,1720 Z" fill="#131313"/>
<rect x="917" y="1440" width="66" height="100" fill="#151515"/>
<!-- casters -->
<circle cx="493" cy="1681" r="45" fill="#1a1a1a"/>
<circle cx="1424" cy="1681" r="45" fill="#1a1a1a"/>
<rect x="913" y="1716" width="74" height="88" rx="20" fill="#181818"/>
</svg>

<svg class="abs" style="left:3410px;top:100px" width="400" height="400" viewBox="0 0 1932 1932">
<!-- back legs -->
<path d="M770,1510 L650,1525 L620,1580 L700,1570 Z" fill="#1d1d1d"/>
<rect x="1127" y="1579" width="78" height="42" rx="16" fill="#242424"/>
<!-- headrest -->
<path d="M875,120 Q880,95 920,92 Q1100,130 1285,70 Q1300,90 1296,130 Q1260,200 1216,262 Q1100,290 940,276 Q895,270 880,220 Z" fill="#303030"/>
<path d="M905,130 Q1100,160 1270,105 Q1245,190 1200,240 Q1100,262 950,250 Q912,240 905,130 Z" fill="#5c5c5c"/>
<path d="M940,170 Q1050,220 1230,170 L1215,215 Q1080,240 950,215 Z" fill="#9a9a9a" opacity="0.6"/>
<!-- back frame right -->
<path d="M1300,600 L1332,560 L1337,950 L1300,1002 Z" fill="#222"/>
<!-- backrest -->
<path d="M820,320 Q830,300 870,300 L1360,290 Q1396,295 1390,330 Q1370,450 1330,560 Q1290,660 1280,760 L1270,1010 Q1265,1042 1230,1042 L850,992 Q800,960 790,900 Q770,800 800,640 Q820,500 820,320 Z" fill="#2a2a2a"/>
<path d="M850,340 L1350,325 Q1340,440 1300,550 Q1255,660 1250,760 L1240,1002 L860,957 Q820,930 815,880 Q800,780 830,640 Q850,500 850,340 Z" fill="#626262"/>
<path d="M875,380 Q1000,470 1290,400 L1280,470 Q1100,560 1000,700 L930,700 Q900,540 875,440 Z" fill="#464646"/>
<path d="M900,730 Q1000,690 1250,720 L1245,882 Q1100,922 1040,902 L1030,1002 L900,982 Q880,850 900,730 Z" fill="#383838"/>
<!-- left arm -->
<path d="M385,810 Q395,790 470,788 L620,790 Q642,798 638,815 L520,852 Q400,840 385,810 Z" fill="#181818"/>
<path d="M500,850 L590,842 L622,1002 L560,1012 Z" fill="#1b1b1b"/>
<!-- seat -->
<path d="M462,1095 Q470,1040 560,1020 Q750,990 950,1020 L1150,1052 Q1200,1068 1196,1100 Q1100,1140 1000,1170 Q800,1200 640,1190 Q470,1160 462,1100 Z" fill="#222"/>
<!-- right arm -->
<path d="M1230,870 L1290,870 L1322,1150 L1332,1202 L1250,1202 Z" fill="#1c1c1c"/>
<path d="M1095,830 Q1105,812 1200,800 L1320,792 Q1342,800 1336,816 L1230,852 Q1120,860 1095,830 Z" fill="#181818"/>
<!-- under seat -->
<path d="M640,1185 L1000,1160 L1190,1095 L1332,1202 L1100,1252 L800,1262 Z" fill="#1a1a1a"/>
<path d="M760,1235 L1160,1225 L1165,1320 L780,1322 Z" fill="#1f1f1f"/>
<path d="M625,1258 L760,1262 L760,1292 L625,1282 Z" fill="#222"/>
<path d="M1100,1240 L1180,1232 L1255,1290 L1230,1315 L1150,1275 Z" fill="#262626"/>
<!-- cylinder -->
<rect x="941" y="1320" width="32" height="105" fill="#9a9a9a"/>
<!-- front legs -->
<path d="M931,1460 L763,1516 L542,1628 L539,1660 L574,1660 L931,1558 Z" fill="#171717"/>
<path d="M990,1460 L1183,1516 L1417,1597 L1421,1625 L1393,1632 L1015,1558 L990,1558 Z" fill="#171717"/>
<path d="M938,1488 L1001,1474 L1050,1677 L1015,1691 Z" fill="#131313"/>
<rect x="927" y="1418" width="64" height="100" fill="#161616"/>
<!-- casters -->
<circle cx="525" cy="1709" r="45" fill="#1a1a1a"/>
<circle cx="1431" cy="1677" r="42" fill="#1a1a1a"/>
<rect x="1001" y="1716" width="76" height="88" rx="22" fill="#181818"/>
</svg>

<div class="t" style="left:760.6px;top:510.7px;font-size:81px;line-height:97px;font-weight:700;-webkit-text-stroke:0;transform:scaleX(1.060);color:#d62326;">$129.</div>
<div class="t" style="left:975.4px;top:517.1px;font-size:47px;line-height:56px;font-weight:700;-webkit-text-stroke:0;letter-spacing:1.02px;transform:scaleX(1.100);color:#d62326;">99</div>
<div class="t" style="left:1221.7px;top:510.7px;font-size:81px;line-height:97px;font-weight:700;-webkit-text-stroke:0;transform:scaleX(1.059);color:#d62326;">$129.</div>
<div class="t" style="left:1436.3px;top:517.1px;font-size:47px;line-height:56px;font-weight:700;-webkit-text-stroke:0;letter-spacing:1.02px;transform:scaleX(1.100);color:#d62326;">99</div>
<div class="t" style="left:1678.4px;top:510.7px;font-size:81px;line-height:97px;font-weight:700;-webkit-text-stroke:0;transform:scaleX(1.076);color:#d62326;">$169.</div>
<div class="t" style="left:1896.8px;top:517.1px;font-size:47px;line-height:56px;font-weight:700;-webkit-text-stroke:0;letter-spacing:1.02px;transform:scaleX(1.100);color:#d62326;">99</div>
<div class="t" style="left:2095.3px;top:510.7px;font-size:81px;line-height:97px;font-weight:700;-webkit-text-stroke:0;letter-spacing:2.14px;transform:scaleX(1.100);color:#d62326;">$249.</div>
<div class="t" style="left:2325.3px;top:517.1px;font-size:47px;line-height:56px;font-weight:700;-webkit-text-stroke:0;letter-spacing:1.02px;transform:scaleX(1.100);color:#d62326;">99</div>
<div class="t" style="left:2544.2px;top:510.7px;font-size:81px;line-height:97px;font-weight:700;-webkit-text-stroke:0;letter-spacing:1.76px;transform:scaleX(1.100);color:#d62326;">$249.</div>
<div class="t" style="left:2773.8px;top:517.1px;font-size:47px;line-height:56px;font-weight:700;-webkit-text-stroke:0;letter-spacing:1.02px;transform:scaleX(1.100);color:#d62326;">99</div>
<div class="t" style="left:2962.9px;top:510.7px;font-size:81px;line-height:97px;font-weight:700;-webkit-text-stroke:0;letter-spacing:1.01px;transform:scaleX(1.100);color:#d62326;">$269.</div>
<div class="t" style="left:3190.9px;top:517.1px;font-size:47px;line-height:56px;font-weight:700;-webkit-text-stroke:0;letter-spacing:1.02px;transform:scaleX(1.100);color:#d62326;">99</div>
<div class="t" style="left:3431.7px;top:510.7px;font-size:81px;line-height:97px;font-weight:700;-webkit-text-stroke:0;letter-spacing:1.94px;transform:scaleX(1.100);color:#d62326;">$399.</div>
<div class="t" style="left:3662.2px;top:517.1px;font-size:47px;line-height:56px;font-weight:700;-webkit-text-stroke:0;letter-spacing:1.02px;transform:scaleX(1.100);color:#d62326;">99</div>
<div class="t" style="left:70.5px;top:529.5px;font-size:50.8px;line-height:61px;font-weight:700;-webkit-text-stroke:0;letter-spacing:-0.44px;">Price</div>
<div class="t" style="left:73.4px;top:653.1px;font-size:50.8px;line-height:61px;font-weight:700;-webkit-text-stroke:0;transform:scaleX(1.010);">Value for Money</div>
<div class="t" style="left:756.0px;top:657.5px;font-size:50.8px;line-height:61px;transform:scaleX(1.035);">Good</div>
<div class="t" style="left:1218.1px;top:657.5px;font-size:50.8px;line-height:61px;transform:scaleX(1.035);">Good</div>
<div class="t" style="left:1653.3px;top:659.5px;font-size:50.8px;line-height:61px;transform:scaleX(1.035);">Good</div>
<div class="t" style="left:2091.9px;top:657.5px;font-size:50.8px;line-height:61px;transform:scaleX(1.064);">Better</div>
<div class="t" style="left:2540.3px;top:657.5px;font-size:50.8px;line-height:61px;transform:scaleX(1.064);">Better</div>
<svg class="abs" style="left:2960.7px;top:658px" width="56" height="56" viewBox="0 0 56 56"><path d="M0,34.4 L10.5,27.6 L21.7,37.3 C31,22 41.5,10 53.2,2 C52,9 52,15 53.8,20.2 C41.5,29.5 31,41.5 23.2,53.4 Z" fill="#13b0ce"/></svg>
<div class="t" style="left:3026.0px;top:656.7px;font-size:50.8px;line-height:61px;font-weight:700;-webkit-text-stroke:0;transform:scaleX(1.061);color:#13b0ce;-webkit-text-stroke:0.9px currentColor;">Best</div>
<svg class="abs" style="left:3433.0px;top:658px" width="56" height="56" viewBox="0 0 56 56"><path d="M0,34.4 L10.5,27.6 L21.7,37.3 C31,22 41.5,10 53.2,2 C52,9 52,15 53.8,20.2 C41.5,29.5 31,41.5 23.2,53.4 Z" fill="#13b0ce"/></svg>
<div class="t" style="left:3498.3px;top:656.7px;font-size:50.8px;line-height:61px;font-weight:700;-webkit-text-stroke:0;transform:scaleX(1.061);color:#13b0ce;-webkit-text-stroke:0.9px currentColor;">Best</div>
<div class="t" style="left:70.5px;top:781.9px;font-size:50.8px;line-height:61px;font-weight:700;-webkit-text-stroke:0;letter-spacing:-0.27px;">1. Recommended for users</div>
<div class="t" style="left:71.9px;top:1207.9px;font-size:50.8px;line-height:61px;font-weight:700;-webkit-text-stroke:0;transform:scaleX(1.011);">2. Specification</div>
<div class="t" style="left:72.4px;top:2122.9px;font-size:50.8px;line-height:61px;font-weight:700;-webkit-text-stroke:0;">3. Functions</div>
<div class="t" style="left:72.9px;top:3334.2px;font-size:50.8px;line-height:61px;font-weight:700;-webkit-text-stroke:0;transform:scaleX(1.040);">4.Warranty</div>
<div class="t" style="left:69.2px;top:870.5px;font-size:52.8px;line-height:63px;transform:scaleX(1.067);">Recommended height</div>
<div class="t" style="left:70.2px;top:928.5px;font-size:52.8px;line-height:63px;transform:scaleX(1.064);">(Foot)</div>
<div class="t" style="left:756.5px;top:890.9px;font-size:50.8px;line-height:61px;transform:scaleX(1.071);">5&#x27;1&#x27;&#x27;-5&#x27;9&#x27;&#x27;</div>
<div class="t" style="left:1218.6px;top:890.9px;font-size:50.8px;line-height:61px;transform:scaleX(1.039);">5&#x27;1&#x27;&#x27;-6&#x27;1&#x27;&#x27;</div>
<div class="t" style="left:1653.8px;top:890.9px;font-size:50.8px;line-height:61px;transform:scaleX(1.039);">5&#x27;1&#x27;&#x27;-6&#x27;1&#x27;&#x27;</div>
<div class="t" style="left:2092.7px;top:890.9px;font-size:50.8px;line-height:61px;transform:scaleX(1.039);">5&#x27;1&#x27;&#x27;-6&#x27;1&#x27;&#x27;</div>
<div class="t" style="left:2541.8px;top:890.9px;font-size:50.8px;line-height:61px;transform:scaleX(1.089);">4&#x27;9&#x27;&#x27;-6&#x27;1&#x27;&#x27;</div>
<div class="t" style="left:2959.4px;top:890.9px;font-size:50.8px;line-height:61px;transform:scaleX(1.039);">5&#x27;1&#x27;&#x27;-6&#x27;1&#x27;&#x27;</div>
<div class="t" style="left:3429.5px;top:890.9px;font-size:50.8px;line-height:61px;transform:scaleX(1.039);">5&#x27;1&#x27;&#x27;-6&#x27;1&#x27;&#x27;</div>
<div class="t" style="left:73.4px;top:1024.5px;font-size:52.8px;line-height:63px;transform:scaleX(1.060);">Weight capacity (LBS)</div>
<div class="co" style="left:755.4px;top:1046.3px"></div>
<div class="t" style="left:814.4px;top:1042.6px;font-size:50.8px;line-height:61px;letter-spacing:-1.00px;">275</div>
<div class="co" style="left:1217.5px;top:1046.3px"></div>
<div class="t" style="left:1276.5px;top:1042.6px;font-size:50.8px;line-height:61px;letter-spacing:-1.00px;">275</div>
<div class="co" style="left:1652.7px;top:1046.3px"></div>
<div class="t" style="left:1711.7px;top:1042.6px;font-size:50.8px;line-height:61px;letter-spacing:-1.00px;">275</div>
<div class="co" style="left:2091.6px;top:1046.3px"></div>
<div class="t" style="left:2150.6px;top:1042.6px;font-size:50.8px;line-height:61px;letter-spacing:-1.00px;">275</div>
<div class="co" style="left:2540.0px;top:1046.3px"></div>
<div class="t" style="left:2599.0px;top:1042.6px;font-size:50.8px;line-height:61px;letter-spacing:-1.00px;">275</div>
<div class="co" style="left:2958.3px;top:1046.3px"></div>
<div class="t" style="left:3017.3px;top:1042.6px;font-size:50.8px;line-height:61px;letter-spacing:-1.00px;">275</div>
<div class="cf" style="left:3428.4px;top:1046.3px"></div>
<div class="t" style="left:3487.8px;top:1042.6px;font-size:50.8px;line-height:61px;transform:scaleX(1.066);">300</div>
<div class="t" style="left:71.0px;top:1300.6px;font-size:52.8px;line-height:63px;transform:scaleX(1.066);">Seat height (inches)</div>
<div class="t" style="left:757.1px;top:1298.4px;font-size:50.8px;line-height:61px;letter-spacing:-0.35px;">18.5-21.46</div>
<div class="t" style="left:1219.1px;top:1298.4px;font-size:50.8px;line-height:61px;transform:scaleX(1.029);">16.54-20.08</div>
<div class="t" style="left:1654.7px;top:1298.4px;font-size:50.8px;line-height:61px;transform:scaleX(0.934);">18.11-21.26</div>
<div class="t" style="left:2093.3px;top:1298.4px;font-size:50.8px;line-height:61px;">16.50-19.50</div>
<div class="t" style="left:2541.9px;top:1298.4px;font-size:50.8px;line-height:61px;transform:scaleX(0.962);">17.72-20.87</div>
<div class="t" style="left:2959.9px;top:1298.4px;font-size:50.8px;line-height:61px;transform:scaleX(1.027);">18.9-22.83</div>
<div class="t" style="left:3430.3px;top:1298.4px;font-size:50.8px;line-height:61px;transform:scaleX(0.966);">17.52 -19.88</div>
<div class="t" style="left:71.0px;top:1396.3px;font-size:52.8px;line-height:63px;transform:scaleX(1.071);">Seat depth (inches)</div>
<div class="t" style="left:756.0px;top:1394.8px;font-size:50.8px;line-height:61px;transform:scaleX(1.022);">20.6</div>
<div class="t" style="left:1219.2px;top:1394.8px;font-size:50.8px;line-height:61px;letter-spacing:-0.66px;">19.29</div>
<div class="t" style="left:1654.5px;top:1394.8px;font-size:50.8px;line-height:61px;">19.69</div>
<div class="t" style="left:2093.7px;top:1394.8px;font-size:50.8px;line-height:61px;transform:scaleX(0.908);">17.37</div>
<div class="t" style="left:2541.8px;top:1394.8px;font-size:50.8px;line-height:61px;letter-spacing:-0.54px;">15.75-19.68</div>
<div class="t" style="left:2958.9px;top:1394.8px;font-size:50.8px;line-height:61px;transform:scaleX(1.044);">20.08</div>
<div class="t" style="left:3430.4px;top:1394.8px;font-size:50.8px;line-height:61px;transform:scaleX(0.924);">17.32</div>
<div class="t" style="left:71.0px;top:1491.5px;font-size:52.8px;line-height:63px;transform:scaleX(1.074);">Seat width (inches)</div>
<div class="t" style="left:756.0px;top:1490.2px;font-size:50.8px;line-height:61px;transform:scaleX(1.021);">20.87</div>
<div class="t" style="left:1218.1px;top:1490.2px;font-size:50.8px;line-height:61px;transform:scaleX(1.038);">20.5</div>
<div class="t" style="left:1654.5px;top:1490.2px;font-size:50.8px;line-height:61px;">19.69</div>
<div class="t" style="left:2092.2px;top:1490.2px;font-size:50.8px;line-height:61px;transform:scaleX(1.042);">20.50</div>
<div class="t" style="left:2541.8px;top:1490.2px;font-size:50.8px;line-height:61px;letter-spacing:-0.50px;">18.9</div>
<div class="t" style="left:2958.9px;top:1490.2px;font-size:50.8px;line-height:61px;transform:scaleX(1.021);">20.87</div>
<div class="t" style="left:3429.0px;top:1490.2px;font-size:50.8px;line-height:61px;transform:scaleX(1.021);">20.87</div>
<div class="t" style="left:69.1px;top:1588.1px;font-size:52.8px;line-height:63px;transform:scaleX(1.078);">Backrest height (inches)</div>
<div class="t" style="left:756.0px;top:1586.6px;font-size:50.8px;line-height:61px;transform:scaleX(1.030);">23.37</div>
<div class="t" style="left:1218.1px;top:1586.6px;font-size:50.8px;line-height:61px;transform:scaleX(1.032);">22.5</div>
<div class="t" style="left:1653.3px;top:1586.6px;font-size:50.8px;line-height:61px;transform:scaleX(1.049);">20.8</div>
<div class="t" style="left:2092.3px;top:1586.6px;font-size:50.8px;line-height:61px;transform:scaleX(1.019);">25.25</div>
<div class="t" style="left:2540.7px;top:1586.6px;font-size:50.8px;line-height:61px;transform:scaleX(1.016);">27</div>
<div class="t" style="left:2959.0px;top:1586.6px;font-size:50.8px;line-height:61px;transform:scaleX(1.016);">27</div>
<div class="t" style="left:3429.0px;top:1586.6px;font-size:50.8px;line-height:61px;transform:scaleX(1.049);">25</div>
<div class="t" style="left:71.0px;top:1684.0px;font-size:52.8px;line-height:63px;transform:scaleX(1.069);">Seat thickness (inches)</div>
<div class="cf" style="left:755.4px;top:1686.6px"></div>
<div class="t" style="left:814.8px;top:1682.9px;font-size:50.8px;line-height:61px;transform:scaleX(1.029);">3.54</div>
<div class="cf" style="left:1217.5px;top:1686.6px"></div>
<div class="t" style="left:1276.9px;top:1682.9px;font-size:50.8px;line-height:61px;transform:scaleX(1.041);">3.94</div>
<div class="cf" style="left:1652.7px;top:1686.6px"></div>
<div class="t" style="left:1712.1px;top:1682.9px;font-size:50.8px;line-height:61px;transform:scaleX(1.041);">3.94</div>
<div class="co" style="left:2091.6px;top:1686.6px"></div>
<div class="t" style="left:2149.3px;top:1682.9px;font-size:50.8px;line-height:61px;">1</div>
<div class="co" style="left:2540.0px;top:1686.6px"></div>
<div class="t" style="left:2598.9px;top:1682.9px;font-size:50.8px;line-height:61px;transform:scaleX(1.020);">2.95</div>
<div class="cf" style="left:2958.3px;top:1686.6px"></div>
<div class="t" style="left:3017.7px;top:1682.9px;font-size:50.8px;line-height:61px;transform:scaleX(1.041);">3.94</div>
<div class="cf" style="left:3428.4px;top:1686.6px"></div>
<div class="t" style="left:3488.6px;top:1682.9px;font-size:50.8px;line-height:61px;transform:scaleX(1.050);">4.33</div>
<div class="t" style="left:70.7px;top:1779.9px;font-size:52.8px;line-height:63px;transform:scaleX(1.074);">Cushion filling material</div>
<div class="co" style="left:755.4px;top:1782.1px"></div>
<div class="t" style="left:812.5px;top:1778.4px;font-size:50.8px;line-height:61px;transform:scaleX(1.034);">Powder-free</div>
<div class="t" style="left:755.9px;top:1836.7px;font-size:50.8px;line-height:61px;transform:scaleX(1.014);">Foam</div>
<div class="co" style="left:1217.5px;top:1782.1px"></div>
<div class="t" style="left:1274.7px;top:1778.4px;font-size:50.8px;line-height:61px;transform:scaleX(1.014);">Foam</div>
<div class="co" style="left:1652.7px;top:1782.1px"></div>
<div class="t" style="left:1709.8px;top:1778.4px;font-size:50.8px;line-height:61px;transform:scaleX(1.034);">Powder-free</div>
<div class="t" style="left:1653.2px;top:1836.7px;font-size:50.8px;line-height:61px;transform:scaleX(1.014);">Foam</div>
<div class="cf" style="left:2091.6px;top:1782.1px"></div>
<div class="t" style="left:2148.7px;top:1778.4px;font-size:50.8px;line-height:61px;transform:scaleX(1.029);">Molded Foam</div>
<div class="cf" style="left:2540.0px;top:1782.1px"></div>
<div class="t" style="left:2597.1px;top:1778.4px;font-size:50.8px;line-height:61px;transform:scaleX(1.029);">Molded Foam</div>
<div class="cf" style="left:2958.3px;top:1782.1px"></div>
<div class="t" style="left:3015.4px;top:1778.4px;font-size:50.8px;line-height:61px;transform:scaleX(1.034);">Powder-free</div>
<div class="t" style="left:2958.7px;top:1836.7px;font-size:50.8px;line-height:61px;transform:scaleX(1.029);">Molded Foam</div>
<div class="cf" style="left:3428.4px;top:1782.1px"></div>
<div class="t" style="left:3485.5px;top:1778.4px;font-size:50.8px;line-height:61px;transform:scaleX(1.029);">Molded Foam</div>
<div class="t" style="left:69.3px;top:1934.0px;font-size:52.8px;line-height:63px;transform:scaleX(1.091);">Upholstery</div>
<div class="co" style="left:755.4px;top:1938.2px"></div>
<div class="t" style="left:812.5px;top:1932.4px;font-size:50.8px;line-height:61px;transform:scaleX(1.042);">Mesh</div>
<div class="co" style="left:1217.5px;top:1938.2px"></div>
<div class="t" style="left:1274.6px;top:1932.4px;font-size:50.8px;line-height:61px;transform:scaleX(1.042);">Mesh</div>
<div class="co" style="left:1652.7px;top:1938.2px"></div>
<div class="t" style="left:1709.8px;top:1932.4px;font-size:50.8px;line-height:61px;transform:scaleX(1.042);">Mesh</div>
<div class="co" style="left:2091.6px;top:1938.2px"></div>
<div class="t" style="left:2148.7px;top:1932.4px;font-size:50.8px;line-height:61px;transform:scaleX(1.042);">Mesh</div>
<div class="co" style="left:2540.0px;top:1938.2px"></div>
<div class="t" style="left:2597.1px;top:1932.4px;font-size:50.8px;line-height:61px;transform:scaleX(1.042);">Mesh</div>
<div class="cf" style="left:2958.3px;top:1938.2px"></div>
<div class="t" style="left:3015.4px;top:1932.4px;font-size:50.8px;line-height:61px;transform:scaleX(1.028);">High-Resilience</div>
<div class="t" style="left:2958.7px;top:1990.7px;font-size:50.8px;line-height:61px;transform:scaleX(1.042);">Mesh</div>
<div class="co" style="left:3428.4px;top:1938.2px"></div>
<div class="t" style="left:3485.5px;top:1932.4px;font-size:50.8px;line-height:61px;transform:scaleX(1.042);">Mesh</div>
<div class="t" style="left:73.4px;top:2228.1px;font-size:52.8px;line-height:63px;transform:scaleX(1.067);">Adjustable headrest</div>
<div class="t" style="left:758.0px;top:2224.5px;font-size:50.8px;line-height:61px;transform:scaleX(1.184);">-</div>
<div class="cf" style="left:1217.5px;top:2233.3px"></div>
<div class="t" style="left:1277.0px;top:2226.5px;font-size:50.8px;line-height:61px;transform:scaleX(1.012);">3D</div>
<div class="cf" style="left:1652.7px;top:2233.3px"></div>
<div class="t" style="left:1712.2px;top:2226.5px;font-size:50.8px;line-height:61px;transform:scaleX(1.012);">3D</div>
<div class="cf" style="left:2091.6px;top:2233.3px"></div>
<div class="t" style="left:2150.6px;top:2226.5px;font-size:50.8px;line-height:61px;">2D</div>
<div class="cf" style="left:2540.0px;top:2233.3px"></div>
<div class="t" style="left:2599.5px;top:2226.5px;font-size:50.8px;line-height:61px;transform:scaleX(1.012);">3D</div>
<div class="cf" style="left:2958.3px;top:2233.3px"></div>
<div class="t" style="left:3017.3px;top:2226.5px;font-size:50.8px;line-height:61px;">2D</div>
<div class="cf" style="left:3428.4px;top:2233.3px"></div>
<div class="t" style="left:3487.4px;top:2226.5px;font-size:50.8px;line-height:61px;">2D</div>
<div class="t" style="left:73.4px;top:2324.5px;font-size:52.8px;line-height:63px;transform:scaleX(1.078);">Adjustable seat depth</div>
<div class="t" style="left:758.0px;top:2320.9px;font-size:50.8px;line-height:61px;transform:scaleX(1.184);">-</div>
<div class="t" style="left:1220.1px;top:2320.9px;font-size:50.8px;line-height:61px;transform:scaleX(1.184);">-</div>
<div class="t" style="left:1655.3px;top:2320.9px;font-size:50.8px;line-height:61px;transform:scaleX(1.184);">-</div>
<div class="t" style="left:2094.2px;top:2320.9px;font-size:50.8px;line-height:61px;transform:scaleX(1.184);">-</div>
<div class="cf" style="left:2540.0px;top:2329.7px"></div>
<div class="t" style="left:2599.3px;top:2322.9px;font-size:50.8px;line-height:61px;letter-spacing:1.67px;transform:scaleX(1.100);">0-4″</div>
<div class="t" style="left:2960.9px;top:2320.9px;font-size:50.8px;line-height:61px;transform:scaleX(1.184);">-</div>
<div class="cf" style="left:3428.4px;top:2329.7px"></div>
<div class="t" style="left:3487.7px;top:2322.9px;font-size:50.8px;line-height:61px;transform:scaleX(1.099);">0-2″</div>
<div class="t" style="left:73.4px;top:2419.9px;font-size:52.8px;line-height:63px;transform:scaleX(1.074);">Adjustable backrest</div>
<div class="t" style="left:758.0px;top:2416.4px;font-size:50.8px;line-height:61px;transform:scaleX(1.184);">-</div>
<div class="t" style="left:1220.1px;top:2416.4px;font-size:50.8px;line-height:61px;transform:scaleX(1.184);">-</div>
<div class="t" style="left:1655.3px;top:2416.4px;font-size:50.8px;line-height:61px;transform:scaleX(1.184);">-</div>
<div class="t" style="left:2094.2px;top:2416.4px;font-size:50.8px;line-height:61px;transform:scaleX(1.184);">-</div>
<div class="t" style="left:2542.6px;top:2416.4px;font-size:50.8px;line-height:61px;transform:scaleX(1.184);">-</div>
<div class="co" style="left:2958.3px;top:2425.2px"></div>
<div class="t" style="left:3016.3px;top:2418.4px;font-size:50.8px;line-height:61px;transform:scaleX(0.924);">1D</div>
<div class="cf" style="left:3428.4px;top:2422.2px"></div>
<div class="t" style="left:3487.4px;top:2421.4px;font-size:50.8px;line-height:61px;">2D</div>
<div class="t" style="left:73.4px;top:2516.3px;font-size:52.8px;line-height:63px;transform:scaleX(1.067);">Adjustable armrest</div>
<div class="co" style="left:755.4px;top:2521.5px"></div>
<div class="t" style="left:813.4px;top:2514.7px;font-size:50.8px;line-height:61px;transform:scaleX(0.924);">1D</div>
<div class="t" style="left:1220.1px;top:2512.7px;font-size:50.8px;line-height:61px;transform:scaleX(1.184);">-</div>
<div class="co" style="left:1652.7px;top:2521.5px"></div>
<div class="t" style="left:1710.7px;top:2514.7px;font-size:50.8px;line-height:61px;transform:scaleX(0.924);">1D</div>
<div class="co" style="left:2091.6px;top:2521.5px"></div>
<div class="t" style="left:2149.6px;top:2514.7px;font-size:50.8px;line-height:61px;transform:scaleX(0.924);">1D</div>
<div class="cf" style="left:2540.0px;top:2521.5px"></div>
<div class="t" style="left:2599.5px;top:2514.7px;font-size:50.8px;line-height:61px;transform:scaleX(1.012);">3D</div>
<div class="cf" style="left:2958.3px;top:2521.5px"></div>
<div class="t" style="left:3017.8px;top:2514.7px;font-size:50.8px;line-height:61px;transform:scaleX(1.012);">3D</div>
<div class="cf" style="left:3428.4px;top:2517.5px"></div>
<div class="t" style="left:3487.9px;top:2514.7px;font-size:50.8px;line-height:61px;letter-spacing:-1.20px;">5D</div>
<div class="t" style="left:73.4px;top:2612.7px;font-size:52.8px;line-height:63px;transform:scaleX(1.060);">Adjustable lumbar</div>
<div class="t" style="left:72.0px;top:2670.7px;font-size:52.8px;line-height:63px;transform:scaleX(1.100);">support</div>
<div class="co" style="left:755.4px;top:2616.9px"></div>
<div class="t" style="left:813.4px;top:2611.1px;font-size:50.8px;line-height:61px;transform:scaleX(0.924);">1D</div>
<div class="co" style="left:1217.5px;top:2616.9px"></div>
<div class="t" style="left:1276.5px;top:2611.1px;font-size:50.8px;line-height:61px;">2D</div>
<div class="co" style="left:1652.7px;top:2616.9px"></div>
<div class="t" style="left:1711.7px;top:2611.1px;font-size:50.8px;line-height:61px;">2D</div>
<div class="t" style="left:2094.2px;top:2609.1px;font-size:50.8px;line-height:61px;transform:scaleX(1.184);">-</div>
<div class="cf" style="left:2540.0px;top:2616.9px"></div>
<div class="t" style="left:2599.5px;top:2611.1px;font-size:50.8px;line-height:61px;transform:scaleX(1.012);">3D</div>
<div class="t" style="left:2960.9px;top:2609.1px;font-size:50.8px;line-height:61px;transform:scaleX(1.184);">-</div>
<div class="co" style="left:3428.4px;top:2607.9px"></div>
<div class="t" style="left:3486.4px;top:2611.1px;font-size:50.8px;line-height:61px;transform:scaleX(0.924);">1D</div>
<div class="t" style="left:72.3px;top:2766.7px;font-size:52.8px;line-height:63px;transform:scaleX(1.088);">Tilt and lock backrest</div>
<div class="co" style="left:755.4px;top:2771.4px"></div>
<div class="t" style="left:812.5px;top:2765.1px;font-size:50.8px;line-height:61px;transform:scaleX(1.032);">Rocking</div>
<div class="cf" style="left:1217.5px;top:2771.4px"></div>
<div class="t" style="left:1277.7px;top:2765.1px;font-size:50.8px;line-height:61px;transform:scaleX(1.061);">4 positions</div>
<div class="t" style="left:1216.9px;top:2823.4px;font-size:50.8px;line-height:61px;transform:scaleX(1.082);">locking</div>
<div class="cf" style="left:1652.7px;top:2771.4px"></div>
<div class="t" style="left:1712.1px;top:2765.1px;font-size:50.8px;line-height:61px;transform:scaleX(1.064);">3 positions</div>
<div class="t" style="left:1652.1px;top:2823.4px;font-size:50.8px;line-height:61px;transform:scaleX(1.082);">locking</div>
<div class="co" style="left:2091.6px;top:2771.4px"></div>
<div class="t" style="left:2148.7px;top:2765.1px;font-size:50.8px;line-height:61px;transform:scaleX(1.032);">Rocking</div>
<div class="cf" style="left:2540.0px;top:2771.4px"></div>
<div class="t" style="left:2600.2px;top:2765.1px;font-size:50.8px;line-height:61px;transform:scaleX(1.061);">4 positions</div>
<div class="t" style="left:2539.4px;top:2823.4px;font-size:50.8px;line-height:61px;transform:scaleX(1.082);">locking</div>
<div class="cf" style="left:2958.3px;top:2771.4px"></div>
<div class="t" style="left:3017.7px;top:2765.1px;font-size:50.8px;line-height:61px;transform:scaleX(1.034);">3 Position</div>
<div class="t" style="left:2958.6px;top:2823.4px;font-size:50.8px;line-height:61px;transform:scaleX(1.060);">Locking</div>
<div class="cf" style="left:3428.4px;top:2771.4px"></div>
<div class="t" style="left:3487.8px;top:2765.1px;font-size:50.8px;line-height:61px;transform:scaleX(1.034);">3 Position</div>
<div class="t" style="left:3428.7px;top:2823.4px;font-size:50.8px;line-height:61px;transform:scaleX(1.060);">Locking</div>
<div class="t" style="left:72.4px;top:2920.8px;font-size:52.8px;line-height:63px;transform:scaleX(1.061);">Tilt Range</div>
<div class="co" style="left:755.4px;top:2925.5px"></div>
<div class="t" style="left:813.1px;top:2919.2px;font-size:50.8px;line-height:61px;transform:scaleX(1.016);">15°</div>
<div class="cf" style="left:1217.5px;top:2925.5px"></div>
<div class="t" style="left:1276.5px;top:2919.2px;font-size:50.8px;line-height:61px;transform:scaleX(1.093);">90°-135°</div>
<div class="cf" style="left:1652.7px;top:2925.5px"></div>
<div class="t" style="left:1711.7px;top:2919.2px;font-size:50.8px;line-height:61px;transform:scaleX(1.100);">95°-130°</div>
<div class="cf" style="left:2091.6px;top:2925.5px"></div>
<div class="t" style="left:2149.1px;top:2919.2px;font-size:50.8px;line-height:61px;transform:scaleX(1.064);">100°-120°</div>
<div class="cf" style="left:2540.0px;top:2925.5px"></div>
<div class="t" style="left:2599.1px;top:2919.2px;font-size:50.8px;line-height:61px;transform:scaleX(1.082);">90°-125°</div>
<div class="cf" style="left:2958.3px;top:2925.5px"></div>
<div class="t" style="left:3017.4px;top:2919.2px;font-size:50.8px;line-height:61px;transform:scaleX(1.082);">90°-125°</div>
<div class="cf" style="left:3428.4px;top:2925.5px"></div>
<div class="t" style="left:3485.9px;top:2919.2px;font-size:50.8px;line-height:61px;transform:scaleX(1.060);">108°-125°</div>
<div class="t" style="left:70.8px;top:3015.8px;font-size:52.8px;line-height:63px;transform:scaleX(1.051);">Gas Cylinder</div>
<div class="cf" style="left:755.4px;top:3021.5px"></div>
<div class="t" style="left:814.4px;top:3014.2px;font-size:50.8px;line-height:61px;transform:scaleX(1.014);">Class 4</div>
<div class="co" style="left:1217.5px;top:3021.5px"></div>
<div class="t" style="left:1276.4px;top:3014.2px;font-size:50.8px;line-height:61px;transform:scaleX(1.025);">Class 3</div>
<div class="cf" style="left:1652.7px;top:3021.5px"></div>
<div class="t" style="left:1711.7px;top:3014.2px;font-size:50.8px;line-height:61px;transform:scaleX(1.014);">Class 4</div>
<div class="co" style="left:2091.6px;top:3021.5px"></div>
<div class="t" style="left:2150.5px;top:3014.2px;font-size:50.8px;line-height:61px;transform:scaleX(1.025);">Class 3</div>
<div class="co" style="left:2540.0px;top:3021.5px"></div>
<div class="t" style="left:2598.9px;top:3014.2px;font-size:50.8px;line-height:61px;transform:scaleX(1.025);">Class 3</div>
<div class="cf" style="left:2958.3px;top:3021.5px"></div>
<div class="t" style="left:3017.3px;top:3014.2px;font-size:50.8px;line-height:61px;transform:scaleX(1.014);">Class 4</div>
<div class="cf" style="left:3428.4px;top:3021.5px"></div>
<div class="t" style="left:3487.4px;top:3014.2px;font-size:50.8px;line-height:61px;transform:scaleX(1.014);">Class 4</div>
<div class="t" style="left:69.2px;top:3112.2px;font-size:52.8px;line-height:63px;transform:scaleX(1.060);">Base material</div>
<div class="cf" style="left:755.4px;top:3116.9px"></div>
<div class="t" style="left:811.9px;top:3110.6px;font-size:50.8px;line-height:61px;transform:scaleX(1.058);">Iron</div>
<div class="co" style="left:1217.5px;top:3116.9px"></div>
<div class="t" style="left:1274.5px;top:3110.6px;font-size:50.8px;line-height:61px;transform:scaleX(1.068);">Nylon</div>
<div class="co" style="left:1652.7px;top:3116.9px"></div>
<div class="t" style="left:1709.7px;top:3110.6px;font-size:50.8px;line-height:61px;transform:scaleX(1.068);">Nylon</div>
<div class="co" style="left:2091.6px;top:3116.9px"></div>
<div class="t" style="left:2148.6px;top:3110.6px;font-size:50.8px;line-height:61px;transform:scaleX(1.068);">Nylon</div>
<div class="co" style="left:2540.0px;top:3116.9px"></div>
<div class="t" style="left:2597.0px;top:3110.6px;font-size:50.8px;line-height:61px;transform:scaleX(1.068);">Nylon</div>
<div class="cf" style="left:2958.3px;top:3116.9px"></div>
<div class="t" style="left:3014.8px;top:3110.6px;font-size:50.8px;line-height:61px;transform:scaleX(1.058);">Iron</div>
<div class="co" style="left:3428.4px;top:3116.9px"></div>
<div class="t" style="left:3485.4px;top:3110.6px;font-size:50.8px;line-height:61px;transform:scaleX(1.068);">Nylon</div>
<div class="t" style="left:69.3px;top:3208.5px;font-size:52.8px;line-height:63px;transform:scaleX(1.032);">Passes ANSI/BIFMA</div>
<div class="cf" style="left:755.4px;top:3207.4px"></div>
<div class="cf" style="left:1217.5px;top:3207.4px"></div>
<div class="cf" style="left:1652.7px;top:3207.4px"></div>
<div class="cf" style="left:2091.6px;top:3207.4px"></div>
<div class="cf" style="left:2540.0px;top:3207.4px"></div>
<div class="cf" style="left:2958.3px;top:3207.4px"></div>
<div class="cf" style="left:3428.4px;top:3207.4px"></div>
<div class="t" style="left:69.9px;top:3422.0px;font-size:52.8px;line-height:63px;letter-spacing:0.27px;transform:scaleX(1.100);">part</div>
<div class="t" style="left:70.6px;top:3499.4px;font-size:41.0px;line-height:46px;transform:scaleX(1.097);-webkit-text-stroke:0.3px currentColor;">(leather, upholstery fabrics and</div>
<div class="t" style="left:72.8px;top:3545.0px;font-size:41.0px;line-height:46px;transform:scaleX(1.083);-webkit-text-stroke:0.3px currentColor;">finishes, backrests, seat</div>
<div class="t" style="left:71.4px;top:3590.6px;font-size:41.0px;line-height:46px;transform:scaleX(1.077);-webkit-text-stroke:0.3px currentColor;">cushions, headrests, lumbar</div>
<div class="t" style="left:70.3px;top:3636.2px;font-size:41.0px;line-height:46px;transform:scaleX(1.077);-webkit-text-stroke:0.3px currentColor;">pillows)</div>
<div class="co" style="left:755.4px;top:3448.2px"></div>
<div class="t" style="left:814.4px;top:3444.5px;font-size:50.8px;line-height:61px;transform:scaleX(1.016);">2 Years</div>
<div class="co" style="left:1217.5px;top:3448.2px"></div>
<div class="t" style="left:1276.5px;top:3444.5px;font-size:50.8px;line-height:61px;transform:scaleX(1.016);">2 Years</div>
<div class="co" style="left:1652.7px;top:3448.2px"></div>
<div class="t" style="left:1711.7px;top:3444.5px;font-size:50.8px;line-height:61px;transform:scaleX(1.016);">2 Years</div>
<div class="co" style="left:2091.6px;top:3448.2px"></div>
<div class="t" style="left:2150.6px;top:3444.5px;font-size:50.8px;line-height:61px;transform:scaleX(1.016);">2 Years</div>
<div class="co" style="left:2540.0px;top:3448.2px"></div>
<div class="t" style="left:2599.0px;top:3444.5px;font-size:50.8px;line-height:61px;transform:scaleX(1.016);">2 Years</div>
<div class="co" style="left:2958.3px;top:3448.2px"></div>
<div class="t" style="left:3017.3px;top:3444.5px;font-size:50.8px;line-height:61px;transform:scaleX(1.016);">2 Years</div>
<div class="co" style="left:3428.4px;top:3448.2px"></div>
<div class="t" style="left:3487.4px;top:3444.5px;font-size:50.8px;line-height:61px;transform:scaleX(1.016);">2 Years</div>
<div class="t" style="left:71.2px;top:3732.3px;font-size:52.8px;line-height:63px;transform:scaleX(1.099);">other parts</div>
<div class="cf" style="left:755.4px;top:3738.0px"></div>
<div class="t" style="left:814.9px;top:3733.7px;font-size:50.8px;line-height:61px;transform:scaleX(1.019);">3 Years</div>
<div class="cf" style="left:1217.5px;top:3738.0px"></div>
<div class="t" style="left:1277.0px;top:3733.7px;font-size:50.8px;line-height:61px;transform:scaleX(1.019);">3 Years</div>
<div class="cf" style="left:1652.7px;top:3738.0px"></div>
<div class="t" style="left:1712.2px;top:3733.7px;font-size:50.8px;line-height:61px;transform:scaleX(1.019);">3 Years</div>
<div class="cf" style="left:2091.6px;top:3738.0px"></div>
<div class="t" style="left:2151.1px;top:3733.7px;font-size:50.8px;line-height:61px;transform:scaleX(1.019);">3 Years</div>
<div class="cf" style="left:2540.0px;top:3738.0px"></div>
<div class="t" style="left:2599.5px;top:3733.7px;font-size:50.8px;line-height:61px;transform:scaleX(1.019);">3 Years</div>
<div class="cf" style="left:2958.3px;top:3738.0px"></div>
<div class="t" style="left:3017.8px;top:3733.7px;font-size:50.8px;line-height:61px;transform:scaleX(1.019);">3 Years</div>
<div class="cf" style="left:3428.4px;top:3738.0px"></div>
<div class="t" style="left:3487.9px;top:3733.7px;font-size:50.8px;line-height:61px;transform:scaleX(1.019);">3 Years</div>
</div>
</body></html>
